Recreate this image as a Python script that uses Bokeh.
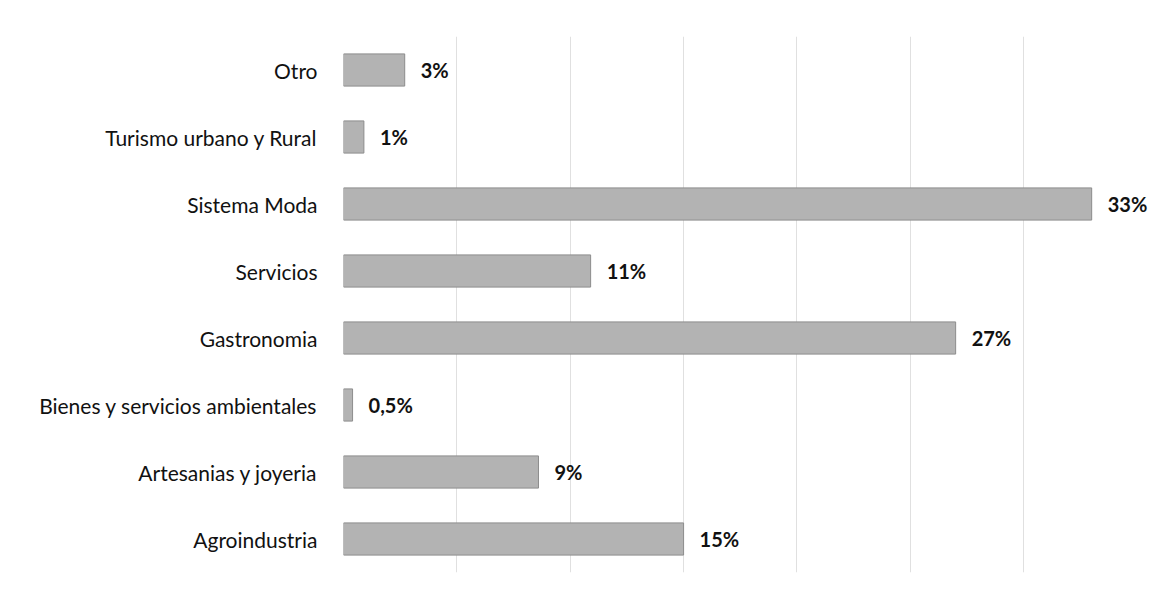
from bokeh.plotting import figure
from bokeh.models import ColumnDataSource, FactorRange, Range1d, FixedTicker
from bokeh.core.properties import value
from bokeh.embed import file_html
from bokeh.resources import INLINE

categories = ["Otro", "Turismo urbano y Rural", "Sistema Moda", "Servicios",
              "Gastronomia", "Bienes y servicios ambientales",
              "Artesanias y joyeria", "Agroindustria"]
values = [2.7, 0.9, 33.0, 10.9, 27.0, 0.4, 8.6, 15.0]
labels = ["3%", "1%", "33%", "11%", "27%", "0,5%", "9%", "15%"]
grid_ticks = [0, 5, 10, 15, 20, 25, 30]

src = ColumnDataSource(dict(cat=categories, val=values, lab=labels))

p = figure(width=1149, height=590, output_backend="svg", toolbar_location=None,
           y_range=FactorRange(*list(reversed(categories))),
           x_range=Range1d(0, 35.55),
           min_border_left=343, min_border_right=0,
           min_border_top=36, min_border_bottom=18)

p.hbar(y="cat", right="val", height=0.48, source=src,
       fill_color="#b3b3b3", line_color="#8c8c8c", line_width=1)

p.text(x="val", y="cat", text="lab", source=src, x_offset=16,
       text_baseline="middle", text_align="left",
       text_font=value("Lato"), text_font_style="bold",
       text_font_size="20px", text_color="#111111")

p.xaxis.visible = False
p.xaxis.ticker = FixedTicker(ticks=grid_ticks)
p.xgrid.ticker = FixedTicker(ticks=grid_ticks)
p.xgrid.grid_line_color = "#e0e0e0"
p.xgrid.grid_line_width = 1
p.ygrid.grid_line_color = None

p.yaxis.axis_line_color = None
p.yaxis.major_tick_line_color = None
p.yaxis.minor_tick_line_color = None
p.yaxis.major_label_standoff = 20
p.yaxis.major_label_text_font = "Lato"
p.yaxis.major_label_text_font_size = "21px"
p.yaxis.major_label_text_color = "#111111"

p.outline_line_color = None
p.background_fill_color = "white"
p.border_fill_color = "white"

open("out.html", "w").write(file_html(p, INLINE))
